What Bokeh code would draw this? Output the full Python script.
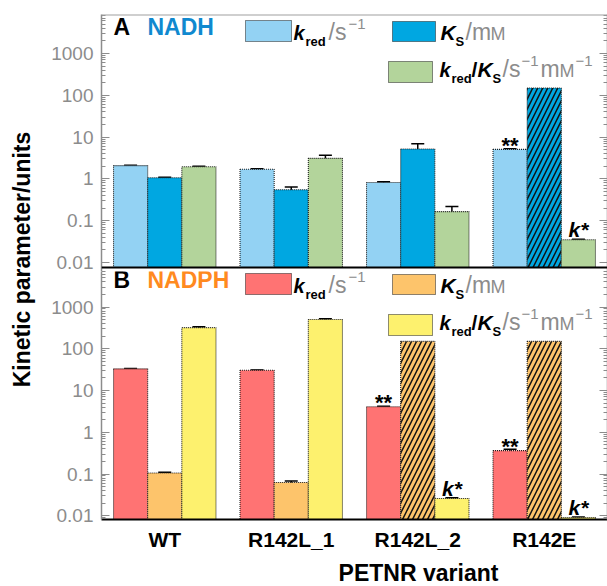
import math
from bokeh.plotting import figure
from bokeh.models import (Range1d, FactorRange, FixedTicker, CustomJSTickFormatter, LogAxis,
                          Span, Whisker, TeeHead, ColumnDataSource, Label, BoxAnnotation)
from bokeh.layouts import row, column
from bokeh.transform import dodge
from bokeh.embed import file_html
from bokeh.resources import INLINE
from bokeh.core.properties import value

# ---------------- data ----------------
variants = ["WT", "R142L_1", "R142L_2", "R142E"]
tick_values = [0.01, 0.1, 1, 10, 100, 1000]

# NADH (panel A)
nadh_kred = [2.08, 1.70, 0.82, 5.1]
nadh_kred_lo = [2.04, 1.65, 0.79, 4.95]
nadh_kred_hi = [2.12, 1.75, 0.85, 5.25]
nadh_ks = [1.07, 0.55, 5.2, 150]
nadh_ks_lo = [1.04, 0.45, 3.2, None]
nadh_ks_hi = [1.10, 0.64, 6.9, None]
nadh_ks_undetermined = [False, False, False, True]
nadh_ratio = [1.96, 3.1, 0.165, 0.035]
nadh_ratio_lo = [1.92, 2.5, 0.10, 0.034]
nadh_ratio_hi = [2.00, 3.7, 0.22, 0.036]
nadh_kred_mark = ["", "", "", "**"]
nadh_ratio_mark = ["", "", "", "k*"]

# NADPH (panel B)
nadph_kred = [33, 30.5, 4.1, 0.365]
nadph_kred_lo = [32.4, 30.0, 4.0, 0.34]
nadph_kred_hi = [33.6, 31.0, 4.2, 0.39]
nadph_ks = [0.106, 0.063, 150, 150]
nadph_ks_lo = [0.102, 0.058, None, None]
nadph_ks_hi = [0.110, 0.068, None, None]
nadph_ks_undetermined = [False, False, True, True]
nadph_ratio = [320, 500, 0.026, 0.0091]
nadph_ratio_lo = [305, 475, 0.025, 0.0088]
nadph_ratio_hi = [335, 525, 0.027, 0.0094]
nadph_kred_mark = ["", "", "**", "**"]
nadph_ratio_mark = ["", "", "k*", "k*"]

# ---------------- styling ----------------
FONT = "Liberation Sans"
GREY = "#8c8c8c"
OUT = "#1e1e1e"
BW = 0.27
W_MAIN = 569
FL = 101  # frame left (page px)
BASE_FIX = 0.37  # baseline correction (fraction of font size)

def make_panel(height, b_top, b_bottom, ystart, yend, minor_from):
    p = figure(x_range=FactorRange(*variants, range_padding=0), y_range=Range1d(ystart, yend),
               y_axis_type="log", width=W_MAIN, height=height, output_backend="svg",
               toolbar_location=None, min_border_left=FL - 38, min_border_right=0,
               min_border_top=b_top, min_border_bottom=b_bottom)
    p.xgrid.grid_line_color = None
    p.ygrid.grid_line_color = None
    p.outline_line_color = None
    minor = [m * 10.0 ** e for e in range(minor_from, 4) for m in range(2, 10)]
    ticker = FixedTicker(ticks=tick_values, minor_ticks=minor)
    ax = p.yaxis[0]
    ax.ticker = ticker
    ax.formatter = CustomJSTickFormatter(code="return String(tick);")
    ax.major_tick_in = 8
    ax.major_tick_out = 0
    ax.minor_tick_in = 4
    ax.minor_tick_out = 0
    ax.axis_line_color = GREY
    ax.axis_line_width = 1.5
    ax.major_tick_line_color = GREY
    ax.minor_tick_line_color = GREY
    ax.major_label_text_font = FONT
    ax.major_label_text_font_size = "19px"
    ax.major_label_text_color = GREY
    ax.major_label_standoff = 8
    r = LogAxis(ticker=ticker, formatter=CustomJSTickFormatter(code="return '';"),
                major_label_standoff=0, axis_line_width=1.5,
                major_tick_in=8, major_tick_out=0, minor_tick_in=4, minor_tick_out=0,
                axis_line_color=GREY, major_tick_line_color=GREY, minor_tick_line_color=GREY)
    p.add_layout(r, "right")
    return p

def add_series(p, base, vals, lo, hi, colors, undetermined, marks):
    offsets = [-BW, 0.0, BW]
    for k in range(3):
        hatch = [" "] * len(variants)
        if k == 1:
            hatch = ["/" if u else " " for u in undetermined]
        src = ColumnDataSource(dict(variant=variants, top=vals[k], hatch=hatch))
        p.vbar(x=dodge("variant", offsets[k], range=p.x_range), top="top", bottom=base,
               width=BW, source=src, fill_color=colors[k], line_color=OUT, line_dash="1 1",
               line_width=1.1, hatch_pattern="hatch", hatch_color="#111111",
               hatch_scale=10, hatch_weight=1.5)
        xs = [v for v, l in zip(variants, lo[k]) if l is not None]
        ls = [l for l in lo[k] if l is not None]
        hs = [h for h in hi[k] if h is not None]
        wsrc = ColumnDataSource(dict(variant=xs, lo=ls, hi=hs))
        w = Whisker(source=wsrc, base=dodge("variant", offsets[k], range=p.x_range),
                    lower="lo", upper="hi", line_color="black", line_width=1.5,
                    upper_head=TeeHead(size=13, line_color="black", line_width=1.5),
                    lower_head=TeeHead(size=13, line_color="black", line_width=1.5))
        p.add_layout(w)
    # significance marks
    for k, style, size, off in [(0, "bold", "22px", -4), (2, "bold italic", "21px", -10)]:
        xs = [v for v, t in zip(variants, marks[k]) if t]
        ys = [y for y, t in zip(vals[k], marks[k]) if t]
        ts = [t for t in marks[k] if t]
        ms = ColumnDataSource(dict(variant=xs, y=ys, t=ts))
        p.text(x=dodge("variant", offsets[k], range=p.x_range), y="y", text="t", source=ms,
               text_font=value(FONT), text_font_style=style, text_font_size=size,
               text_align="center", text_baseline="alphabetic", y_offset=off, text_color="black")

def txt(p, fb, x, yb, text, size, style="bold", color="black", align="left", x0=FL):
    # x, yb: page pixels (yb = wanted baseline); fb: frame bottom page pixel
    p.add_layout(Label(x=x - x0, y=fb - yb + BASE_FIX * size, x_units="screen", y_units="screen",
                       text=text, text_font=FONT, text_font_size=f"{size}px",
                       text_font_style=style, text_color=color, text_align=align,
                       text_baseline="alphabetic"))

def box(p, fb, l, t, r, b, color):
    p.add_layout(BoxAnnotation(left=l - FL, right=r - FL, top=fb - t, bottom=fb - b,
                               left_units="screen", right_units="screen",
                               top_units="screen", bottom_units="screen",
                               fill_color=color, fill_alpha=1.0, line_color=OUT,
                               line_dash="1 1", line_width=1.1, line_alpha=1.0))

def legend(p, fb, dy, colors, letter, cof, cofcolor):
    txt(p, fb, 113, 35 + dy, letter, 23)
    txt(p, fb, 147, 35 + dy, cof, 23, color=cofcolor)
    box(p, fb, 245, 20 + dy, 291, 41 + dy, colors[0])
    txt(p, fb, 293, 40 + dy, "k", 20, "bold italic")
    txt(p, fb, 305, 46 + dy, "red", 13)
    txt(p, fb, 328, 40 + dy, "/s", 23, "normal", GREY)
    txt(p, fb, 348, 29 + dy, "\u22121", 15, "normal", GREY)
    box(p, fb, 392, 21 + dy, 435, 41 + dy, colors[1])
    txt(p, fb, 440, 40 + dy, "K", 21, "bold italic")
    txt(p, fb, 455, 46 + dy, "S", 13)
    txt(p, fb, 465, 40 + dy, "/m", 23, "normal", GREY)
    txt(p, fb, 490, 40 + dy, "M", 18, "normal", GREY)
    box(p, fb, 388, 61 + dy, 432, 82 + dy, colors[2])
    txt(p, fb, 439, 77 + dy, "k", 20, "bold italic")
    txt(p, fb, 451, 83 + dy, "red", 13)
    txt(p, fb, 471, 77 + dy, "/", 21)
    txt(p, fb, 477, 77 + dy, "K", 21, "bold italic")
    txt(p, fb, 492, 83 + dy, "S", 13)
    txt(p, fb, 502, 77 + dy, "/s", 23, "normal", GREY)
    txt(p, fb, 521, 66 + dy, "\u22121", 15, "normal", GREY)
    txt(p, fb, 540, 77 + dy, "m", 23, "normal", GREY)
    txt(p, fb, 559, 77 + dy, "M", 18, "normal", GREY)
    txt(p, fb, 575, 66 + dy, "\u22121", 15, "normal", GREY)

# ---------------- panel A ----------------
y1s, y1e = 10 ** -2.215, 10 ** 3.933
a_base = 10 ** -2.12
pA = make_panel(271, 14, 0, y1s, y1e, -2)
pA.xaxis.visible = False
colsA = ["#93d2f3", "#00a7e1", "#b3d49b"]
add_series(pA, a_base, [nadh_kred, nadh_ks, nadh_ratio],
           [nadh_kred_lo, nadh_ks_lo, nadh_ratio_lo], [nadh_kred_hi, nadh_ks_hi, nadh_ratio_hi],
           colsA, nadh_ks_undetermined, [nadh_kred_mark, None, nadh_ratio_mark])
pA.add_layout(Span(location=a_base, dimension="width", line_color="black", line_width=2))
pA.add_layout(Span(location=y1e, dimension="width", line_color="#a0a0a0", line_width=2))
legend(pA, 271, 0, colsA, "A", "NADH", "#1089cf")

# ---------------- panel B ----------------
y2s, y2e = 10 ** -2.088, 10 ** 3.85
pB = make_panel(282, 0, 32, y2s, y2e, -3)
colsB = ["#ff7373", "#fdc46b", "#fdf16e"]
add_series(pB, y2s, [nadph_kred, nadph_ks, nadph_ratio],
           [nadph_kred_lo, nadph_ks_lo, nadph_ratio_lo], [nadph_kred_hi, nadph_ks_hi, nadph_ratio_hi],
           colsB, nadph_ks_undetermined, [nadph_kred_mark, None, nadph_ratio_mark])
xa = pB.xaxis[0]
xa.axis_line_color = "black"
xa.axis_line_width = 2
xa.major_tick_line_color = None
xa.minor_tick_line_color = None
xa.major_label_text_font = FONT
xa.major_label_text_font_style = "bold"
xa.major_label_text_font_size = "21px"
xa.major_label_text_color = "black"
xa.major_label_standoff = 2
legend(pB, 521, 255, colsB, "B", "NADPH", "#ff8a1f")

# ---------------- x-axis title strip ----------------
pX = figure(width=W_MAIN, height=33, x_range=Range1d(0, W_MAIN), y_range=Range1d(0, 33),
            output_backend="svg", toolbar_location=None, min_border=0)
pX.axis.visible = False
pX.grid.grid_line_color = None
pX.outline_line_color = None
txt(pX, 586, 355, 581, "PETNR variant", 23, align="center", x0=38)

# ---------------- shared y label ----------------
lf = figure(width=38, height=586, x_range=Range1d(0, 38), y_range=Range1d(0, 586),
            output_backend="svg", toolbar_location=None, min_border=0)
lf.axis.visible = False
lf.grid.grid_line_color = None
lf.outline_line_color = None
lf.add_layout(Label(x=21, y=327, x_units="screen", y_units="screen",
                    text="Kinetic parameter/units", angle=math.pi / 2,
                    text_font=FONT, text_font_size="23px", text_font_style="bold",
                    text_align="center", text_baseline="middle", text_color="black"))

layout = row(lf, column(pA, pB, pX))
open("out.html", "w").write(file_html(layout, INLINE))
